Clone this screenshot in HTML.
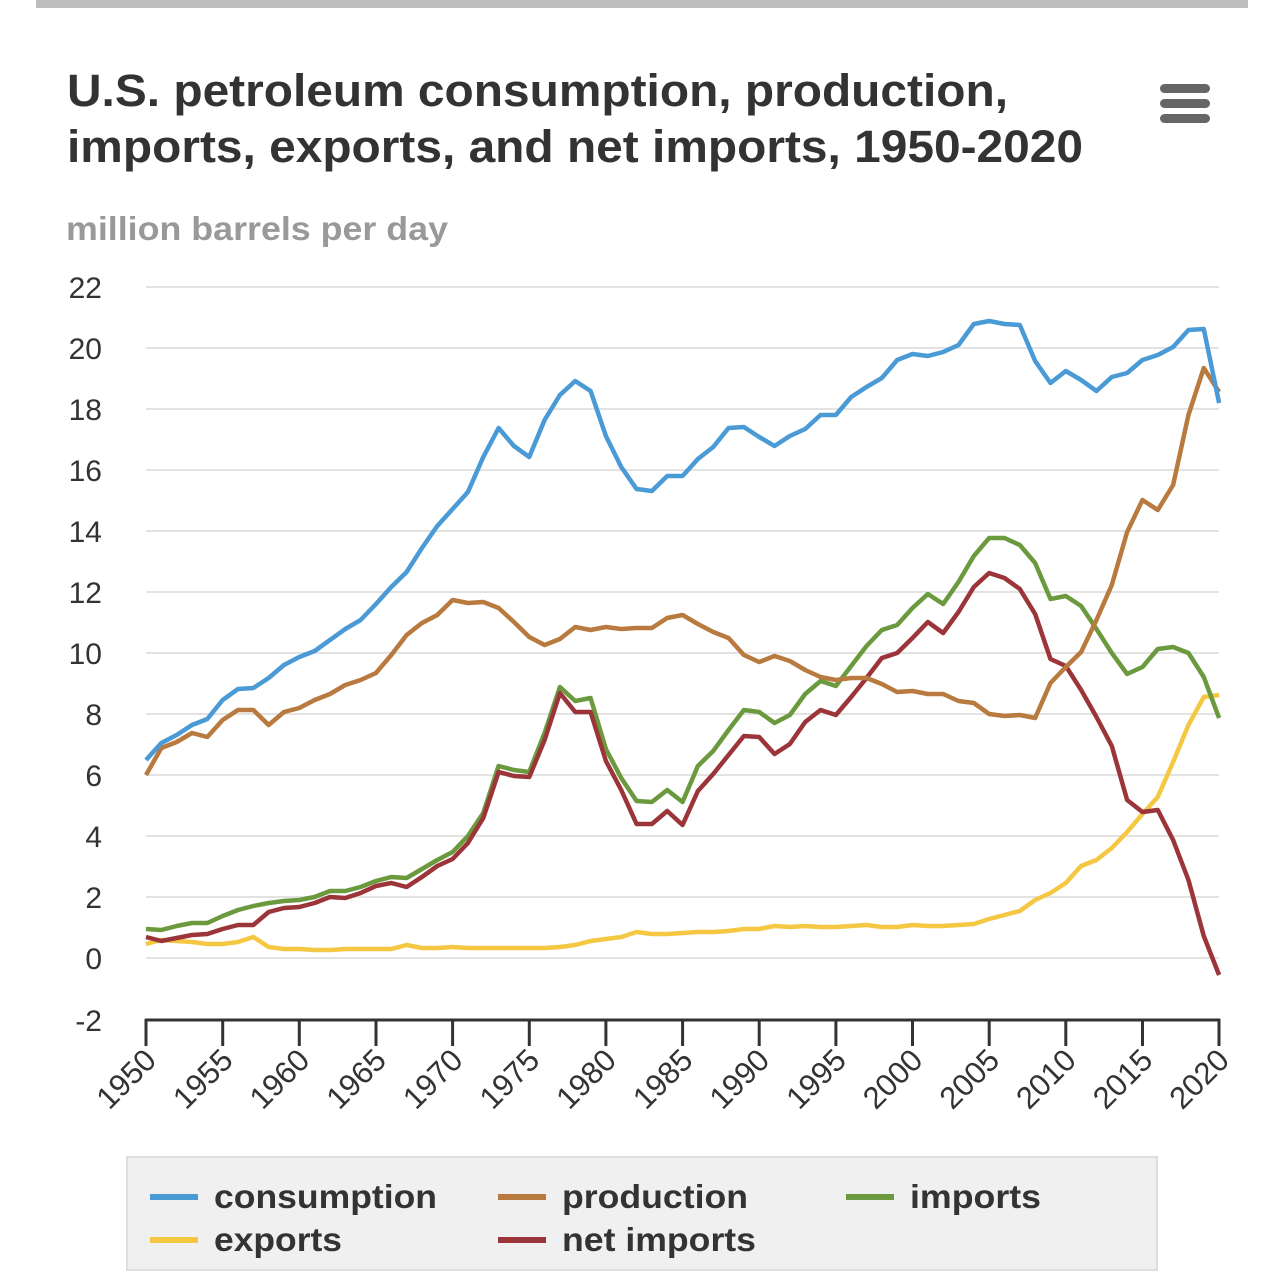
<!DOCTYPE html>
<html><head><meta charset="utf-8"><style>
html,body{margin:0;padding:0;background:#fff;width:1284px;height:1279px;overflow:hidden;font-family:"Liberation Sans",Arial,sans-serif}
</style></head><body>
<svg width="1284" height="1279" viewBox="0 0 1284 1279" xmlns="http://www.w3.org/2000/svg" font-family="Liberation Sans, Arial, sans-serif">
<rect x="36" y="0" width="1212" height="8" fill="#bdbdbd"/>
<text x="67" y="106" font-size="45" font-weight="bold" fill="#333" textLength="941" lengthAdjust="spacingAndGlyphs">U.S. petroleum consumption, production,</text>
<text x="67" y="162" font-size="45" font-weight="bold" fill="#333" textLength="1016" lengthAdjust="spacingAndGlyphs">imports, exports, and net imports, 1950-2020</text>
<g fill="#666"><rect x="1160" y="84" width="50" height="9" rx="4.5"/><rect x="1160" y="99" width="50" height="9" rx="4.5"/><rect x="1160" y="114" width="50" height="9" rx="4.5"/></g>
<text x="66" y="240" font-size="33" font-weight="bold" fill="#999" textLength="382" lengthAdjust="spacingAndGlyphs">million barrels per day</text>
<g stroke="#e3e3e3" stroke-width="2">
<line x1="146" x2="1219" y1="287" y2="287"/><line x1="146" x2="1219" y1="348" y2="348"/><line x1="146" x2="1219" y1="409" y2="409"/><line x1="146" x2="1219" y1="470" y2="470"/><line x1="146" x2="1219" y1="531" y2="531"/><line x1="146" x2="1219" y1="592" y2="592"/><line x1="146" x2="1219" y1="653" y2="653"/><line x1="146" x2="1219" y1="714" y2="714"/><line x1="146" x2="1219" y1="775" y2="775"/><line x1="146" x2="1219" y1="836" y2="836"/><line x1="146" x2="1219" y1="897" y2="897"/><line x1="146" x2="1219" y1="958" y2="958"/>
</g>
<g font-size="30" fill="#333" text-anchor="end">
<text x="102" y="298">22</text><text x="102" y="359">20</text><text x="102" y="420">18</text><text x="102" y="481">16</text><text x="102" y="542">14</text><text x="102" y="603">12</text><text x="102" y="664">10</text><text x="102" y="725">8</text><text x="102" y="786">6</text><text x="102" y="847">4</text><text x="102" y="908">2</text><text x="102" y="969">0</text><text x="102" y="1031">-2</text>
</g>
<g stroke="#333" stroke-width="3">
<line x1="145" x2="1220" y1="1020" y2="1020"/>
<line x1="146" x2="146" y1="1019" y2="1046"/><line x1="222.7" x2="222.7" y1="1019" y2="1046"/><line x1="299.3" x2="299.3" y1="1019" y2="1046"/><line x1="376" x2="376" y1="1019" y2="1046"/><line x1="452.6" x2="452.6" y1="1019" y2="1046"/><line x1="529.3" x2="529.3" y1="1019" y2="1046"/><line x1="605.9" x2="605.9" y1="1019" y2="1046"/><line x1="682.6" x2="682.6" y1="1019" y2="1046"/><line x1="759.2" x2="759.2" y1="1019" y2="1046"/><line x1="835.9" x2="835.9" y1="1019" y2="1046"/><line x1="912.5" x2="912.5" y1="1019" y2="1046"/><line x1="989.2" x2="989.2" y1="1019" y2="1046"/><line x1="1065.8" x2="1065.8" y1="1019" y2="1046"/><line x1="1142.5" x2="1142.5" y1="1019" y2="1046"/><line x1="1219" x2="1219" y1="1019" y2="1046"/>
</g>
<g font-size="31" fill="#333" text-anchor="end">
<text transform="translate(158,1062) rotate(-45)">1950</text>
<text transform="translate(234.7,1062) rotate(-45)">1955</text>
<text transform="translate(311.3,1062) rotate(-45)">1960</text>
<text transform="translate(388,1062) rotate(-45)">1965</text>
<text transform="translate(464.6,1062) rotate(-45)">1970</text>
<text transform="translate(541.3,1062) rotate(-45)">1975</text>
<text transform="translate(617.9,1062) rotate(-45)">1980</text>
<text transform="translate(694.6,1062) rotate(-45)">1985</text>
<text transform="translate(771.2,1062) rotate(-45)">1990</text>
<text transform="translate(847.9,1062) rotate(-45)">1995</text>
<text transform="translate(924.5,1062) rotate(-45)">2000</text>
<text transform="translate(1001.2,1062) rotate(-45)">2005</text>
<text transform="translate(1077.8,1062) rotate(-45)">2010</text>
<text transform="translate(1154.5,1062) rotate(-45)">2015</text>
<text transform="translate(1231,1062) rotate(-45)">2020</text>
</g>
<g transform="translate(146,0) scale(15.33,1)" fill="none" stroke-width="4.5" stroke-linejoin="round">
<polyline vector-effect="non-scaling-stroke" stroke="#f4c842" points="0,944 1,940 2,941 3,942 4,944 5,944 6,942 7,937 8,947 9,949 10,949 11,950 12,950 13,949 14,949 15,949 16,949 17,945 18,948 19,948 20,947 21,948 22,948 23,948 24,948 25,948 26,948 27,947 28,945 29,941 30,939 31,937 32,932 33,934 34,934 35,933 36,932 37,932 38,931 39,929 40,929 41,926 42,927 43,926 44,927 45,927 46,926 47,925 48,927 49,927 50,925 51,926 52,926 53,925 54,924 55,919 56,915 57,911 58,900 59,893 60,883 61,866 62,860 63,848 64,832 65,814 66,797 67,762 68,725 69,697 70,695"/>
<polyline vector-effect="non-scaling-stroke" stroke="#6b9a3e" points="0,929 1,930 2,926 3,923 4,923 5,916 6,910 7,906 8,903 9,901 10,900 11,897 12,891 13,891 14,887 15,881 16,877 17,878 18,869 19,860 20,852 21,836 22,813 23,766 24,770 25,772 26,733 27,687 28,701 29,698 30,749 31,778 32,801 33,802 34,790 35,802 36,766 37,751 38,730 39,710 40,712 41,723 42,715 43,694 44,681 45,686 46,666 47,646 48,630 49,625 50,608 51,594 52,604 53,582 54,556 55,538 56,538 57,545 58,563 59,599 60,596 61,606 62,629 63,653 64,674 65,667 66,649 67,647 68,653 69,677 70,718"/>
<polyline vector-effect="non-scaling-stroke" stroke="#9b3539" points="0,937 1,941 2,938 3,935 4,934 5,929 6,925 7,925 8,912 9,908 10,907 11,903 12,897 13,898 14,893 15,886 16,883 17,887 18,877 19,866 20,859 21,843 22,818 23,772 24,776 25,777 26,740 27,693 28,712 29,712 30,761 31,790 32,824 33,824 34,811 35,825 36,791 37,774 38,755 39,736 40,737 41,754 42,744 43,722 44,710 45,715 46,697 47,678 48,658 49,653 50,638 51,622 52,633 53,612 54,587 55,573 56,578 57,589 58,614 59,659 60,666 61,690 62,717 63,746 64,800 65,812 66,810 67,840 68,880 69,936 70,975"/>
<polyline vector-effect="non-scaling-stroke" stroke="#b87a3e" points="0,775 1,748 2,742 3,733 4,737 5,720 6,710 7,710 8,725 9,712 10,708 11,700 12,694 13,685 14,680 15,673 16,655 17,635 18,623 19,615 20,600 21,603 22,602 23,608 24,622 25,637 26,645 27,639 28,627 29,630 30,627 31,629 32,628 33,628 34,618 35,615 36,624 37,632 38,638 39,655 40,662 41,656 42,661 43,670 44,677 45,680 46,678 47,678 48,684 49,692 50,691 51,694 52,694 53,701 54,703 55,714 56,716 57,715 58,718 59,683 60,667 61,652 62,620 63,585 64,532 65,500 66,510 67,485 68,415 69,368 70,392"/>
<polyline vector-effect="non-scaling-stroke" stroke="#4a9ad6" points="0,760 1,743 2,735 3,725 4,719 5,700 6,689 7,688 8,678 9,665 10,657 11,651 12,640 13,629 14,620 15,604 16,587 17,572 18,548 19,526 20,509 21,492 22,457 23,428 24,446 25,457 26,420 27,395 28,381 29,391 30,436 31,467 32,489 33,491 34,476 35,476 36,459 37,447 38,428 39,427 40,437 41,446 42,436 43,429 44,415 45,415 46,397 47,387 48,378 49,360 50,354 51,356 52,352 53,345 54,324 55,321 56,324 57,325 58,361 59,383 60,371 61,380 62,391 63,377 64,373 65,360 66,355 67,347 68,330 69,329 70,403"/>
</g>
<rect x="127" y="1157" width="1030" height="113" fill="#f0f0f0" stroke="#dedede" stroke-width="2"/>
<g stroke-width="6">
<line x1="150" x2="198" y1="1197" y2="1197" stroke="#4a9ad6"/>
<line x1="150" x2="198" y1="1240" y2="1240" stroke="#f4c842"/>
<line x1="498" x2="546" y1="1197" y2="1197" stroke="#b87a3e"/>
<line x1="498" x2="546" y1="1240" y2="1240" stroke="#9b3539"/>
<line x1="846" x2="894" y1="1197" y2="1197" stroke="#6b9a3e"/>
</g>
<g font-size="33" font-weight="bold" fill="#333">
<text x="214" y="1208" textLength="223" lengthAdjust="spacingAndGlyphs">consumption</text>
<text x="214" y="1251" textLength="128" lengthAdjust="spacingAndGlyphs">exports</text>
<text x="562" y="1208" textLength="186" lengthAdjust="spacingAndGlyphs">production</text>
<text x="562" y="1251" textLength="194" lengthAdjust="spacingAndGlyphs">net imports</text>
<text x="910" y="1208" textLength="131" lengthAdjust="spacingAndGlyphs">imports</text>
</g>
</svg>
</body></html>
